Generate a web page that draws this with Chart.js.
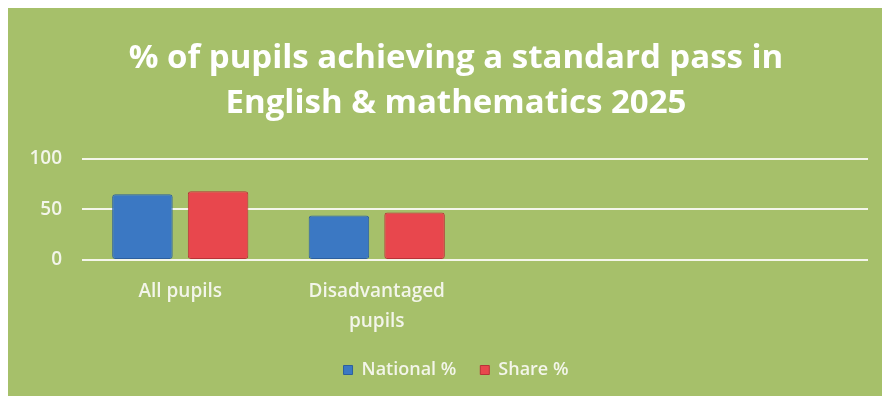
<!DOCTYPE html>
<html>
<head>
<meta charset="utf-8">
<script src="https://cdn.jsdelivr.net/npm/chart.js@4"></script>
<style>
  body { margin: 0; background: #fff; }
  #box { position: absolute; left: 8px; top: 8px; width: 874px; height: 388px; background: #a6c06a; }
</style>
</head>
<body>
<div id="box"><canvas id="myChart"></canvas></div>
<script>
// categories (last two slots are empty in the original)
const categories = ['All pupils', ['Disadvantaged', 'pupils'], '', ''];
const national = [65, 44, null, null];
const share = [68, 47, null, null];
const yTicks = [0, 50, 100];

const txt = '#f3f5ea';

const ctx = document.getElementById('myChart');

new Chart(ctx, {
  type: 'bar',
  data: {
    labels: categories,
    datasets: [{
      label: 'National %',
      data: national,
      backgroundColor: '#3b78c3',
      borderColor: '#2c5f9e',
      borderWidth: 1,
      borderRadius: 3,
      borderSkipped: false
    }, {
      label: 'Share %',
      data: share,
      backgroundColor: '#e8474d',
      borderColor: '#b83338',
      borderWidth: 1,
      borderRadius: 3,
      borderSkipped: false
    }]
  },
  options: {
    responsive: true,
    maintainAspectRatio: false,
    animation: false,
    categoryPercentage: 0.77,
    barPercentage: 0.8,
    layout: { padding: { left: 36, right: 14, top: 0, bottom: 7 } },
    plugins: {
      title: {
        display: true,
        text: ['% of pupils achieving a standard pass in', 'English & mathematics 2025'],
        color: '#ffffff',
        font: { family: 'Open Sans', size: 33, weight: 'bold', lineHeight: 1.36 },
        padding: { top: 28, bottom: 33 }
      },
      legend: {
        position: 'bottom',
        labels: {
          color: txt,
          font: { family: 'Open Sans', size: 18, weight: '600' },
          boxWidth: 9,
          boxHeight: 9,
          padding: 24
        }
      },
      tooltip: { enabled: false }
    },
    scales: {
      x: {
        grid: { display: false, drawTicks: false },
        border: { display: false },
        ticks: {
          color: txt,
          font: { family: 'Open Sans', size: 19, weight: '600', lineHeight: 1.55 },
          padding: 17,
          maxRotation: 0,
          autoSkip: false
        },
        afterFit: (s) => { s.height = 77; }
      },
      y: {
        min: 0,
        max: 100,
        afterBuildTicks: (s) => { s.ticks = yTicks.map(v => ({ value: v })); },
        grid: { color: '#f4f6ea', lineWidth: 2, drawTicks: false },
        border: { display: false },
        ticks: {
          color: txt,
          font: { family: 'Open Sans', size: 19, weight: '600' },
          padding: 20
        },
        afterFit: (s) => {
          s.width = 38;
          // tick labels sit left of the narrow axis box, so don't clip them
          s._computeLabelArea = () => undefined;
        }
      }
    }
  }
});
</script>
</body>
</html>
